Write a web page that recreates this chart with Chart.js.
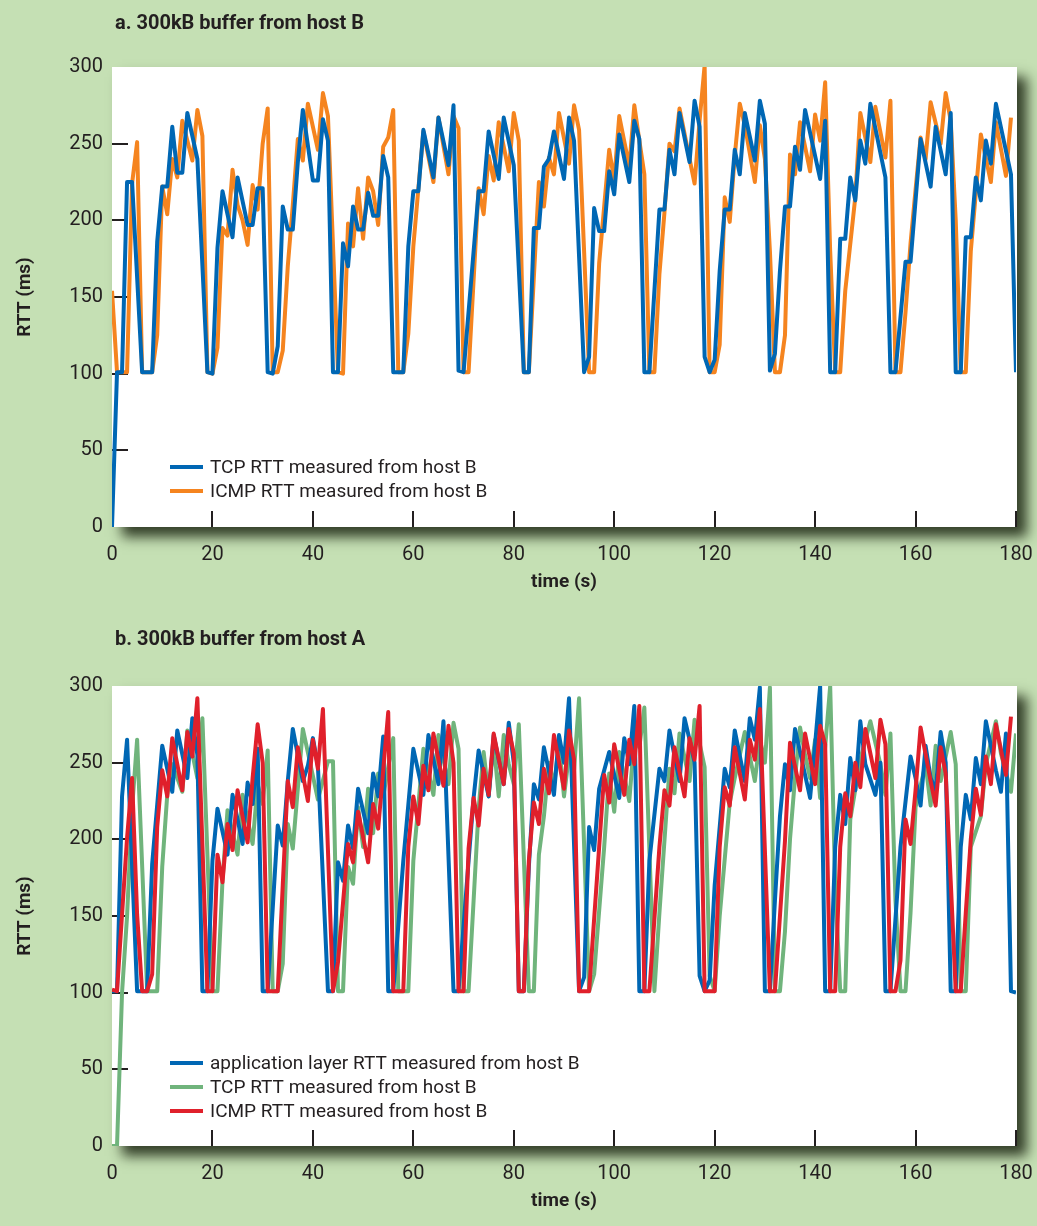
<!DOCTYPE html>
<html>
<head>
<meta charset="utf-8">
<title>RTT with a 300kB buffer</title>
<script src="https://cdn.jsdelivr.net/npm/chart.js@4.4.1/dist/chart.umd.min.js"></script>
<style>
  html, body { margin: 0; padding: 0; background: #c5e0b4; }
  body { position: relative; width: 1037px; height: 1226px; overflow: hidden; }
  canvas { position: absolute; left: 0; }
  #panelA { top: 0; }
  #panelB { top: 613px; }
</style>
</head>
<body>
<canvas id="panelA" width="1037" height="613"></canvas>
<canvas id="panelB" width="1037" height="613"></canvas>
<script>
// axis ticks
const timeTicks = [0, 20, 40, 60, 80, 100, 120, 140, 160, 180];
const rttTicks = [0, 50, 100, 150, 200, 250, 300];

// panel a: [time s, RTT ms] at each vertex of the trace
const tcpFromB_a = [
  [0, 0], [1, 101], [2, 101], [3, 225], [4, 225], [6, 101], [8, 101], [9, 186], [10, 222], [11, 222],
  [12, 261], [13, 231], [14, 231], [15, 270], [17, 240], [19, 101], [20, 100], [21, 182], [22, 219],
  [24, 189], [25, 228], [27, 197], [28, 197], [29, 221], [30, 221], [31, 101], [32, 100], [33, 118],
  [34, 209], [35, 194], [36, 194], [37, 238], [38, 272], [40, 226], [41, 226], [42, 266], [43, 252],
  [44, 101], [45, 101], [46, 185], [47, 170], [48, 209], [49, 194], [50, 194], [51, 218], [52, 203],
  [53, 203], [54, 242], [55, 228], [56, 101], [58, 101], [59, 183], [60, 219], [61, 219], [62, 259],
  [64, 228], [65, 267], [67, 236], [68, 275], [69, 102], [70, 101], [73, 219], [74, 219], [75, 258],
  [77, 227], [78, 267], [80, 236], [82, 101], [83, 101], [84, 195], [85, 195], [86, 235], [87, 240],
  [88, 258], [90, 227], [91, 267], [92, 252], [94, 101], [95, 111], [96, 208], [97, 193], [98, 193],
  [99, 232], [100, 217], [101, 256], [103, 225], [104, 265], [105, 253], [106, 101], [107, 101],
  [109, 207], [110, 207], [111, 246], [112, 230], [113, 270], [115, 238], [116, 278], [117, 261],
  [118, 111], [119, 101], [120, 109], [121, 167], [122, 207], [123, 207], [124, 246], [125, 230],
  [126, 270], [128, 239], [129, 278], [130, 263], [131, 102], [132, 113], [133, 167], [134, 209],
  [135, 209], [136, 248], [137, 233], [138, 272], [141, 227], [142, 265], [143, 101], [144, 101],
  [145, 188], [146, 188], [147, 228], [148, 213], [149, 252], [150, 237], [151, 276], [154, 228],
  [155, 101], [156, 101], [158, 173], [159, 173], [161, 253], [163, 222], [164, 261], [166, 230],
  [167, 270], [168, 101], [169, 101], [170, 189], [171, 189], [172, 228], [173, 213], [174, 252],
  [175, 237], [176, 276], [179, 230], [180, 101]
];
const icmpFromB_a = [
  [0, 154], [1, 101], [3, 101], [4, 224], [5, 251], [6, 101], [8, 101], [9, 125], [10, 222], [11, 204],
  [12, 240], [13, 228], [14, 265], [16, 239], [17, 272], [18, 255], [19, 101], [20, 100], [21, 117],
  [22, 195], [23, 190], [24, 233], [25, 210], [26, 200], [27, 184], [28, 223], [29, 207], [30, 250],
  [31, 273], [32, 101], [33, 101], [34, 115], [35, 170], [36, 210], [37, 253], [38, 239], [39, 276],
  [41, 246], [42, 283], [43, 268], [44, 184], [45, 101], [46, 100], [47, 198], [48, 183], [49, 221],
  [50, 188], [51, 228], [52, 219], [53, 197], [54, 248], [55, 254], [56, 272], [57, 101], [58, 101],
  [59, 126], [60, 183], [62, 258], [64, 225], [65, 267], [67, 230], [68, 268], [69, 260], [70, 101],
  [71, 101], [73, 221], [74, 204], [75, 242], [76, 226], [77, 264], [79, 232], [80, 270], [81, 252],
  [82, 101], [83, 101], [85, 225], [86, 209], [87, 241], [88, 230], [89, 270], [91, 237], [92, 275],
  [93, 259], [95, 101], [96, 101], [97, 172], [98, 209], [99, 246], [100, 226], [101, 268], [103, 235],
  [104, 275], [105, 252], [106, 230], [107, 101], [108, 101], [109, 165], [110, 205], [111, 250],
  [112, 245], [113, 273], [115, 240], [116, 224], [117, 265], [118, 301], [119, 101], [120, 101],
  [121, 119], [122, 215], [123, 199], [124, 242], [125, 276], [126, 262], [128, 225], [129, 262],
  [130, 240], [131, 180], [132, 101], [133, 101], [134, 125], [135, 243], [136, 230], [137, 264],
  [139, 232], [140, 269], [141, 252], [142, 290], [143, 180], [144, 101], [145, 101], [146, 154],
  [148, 215], [149, 270], [151, 238], [152, 274], [154, 241], [155, 278], [156, 101], [157, 101],
  [158, 140], [159, 185], [160, 220], [161, 254], [162, 240], [163, 277], [165, 250], [166, 283],
  [167, 265], [168, 200], [169, 101], [170, 101], [171, 180], [173, 256], [175, 225], [176, 264],
  [178, 229], [179, 267]
];

// panel b
const appFromB_b = [
  [0, 101], [1, 101], [2, 228], [3, 265], [5, 101], [7, 101], [8, 184], [10, 261], [12, 231], [13, 271],
  [15, 240], [16, 279], [17, 255], [18, 101], [19, 101], [20, 186], [21, 220], [23, 190], [24, 229],
  [26, 197], [27, 237], [28, 223], [29, 259], [30, 101], [31, 101], [33, 209], [34, 196], [35, 238],
  [36, 272], [38, 238], [39, 248], [40, 266], [41, 248], [43, 101], [44, 101], [45, 185], [46, 173],
  [47, 209], [48, 194], [49, 233], [51, 204], [52, 243], [53, 228], [54, 267], [55, 101], [56, 101],
  [58, 186], [60, 259], [62, 229], [63, 268], [65, 236], [66, 277], [68, 101], [69, 101], [71, 186],
  [72, 227], [73, 258], [75, 228], [76, 268], [78, 236], [79, 276], [80, 250], [81, 101], [82, 101],
  [83, 182], [84, 236], [85, 226], [86, 260], [88, 229], [89, 268], [90, 250], [91, 292], [93, 101],
  [94, 110], [95, 208], [96, 193], [97, 233], [99, 257], [101, 227], [102, 266], [103, 249], [104, 287],
  [105, 101], [106, 101], [107, 186], [109, 246], [110, 238], [111, 271], [113, 238], [114, 279],
  [115, 265], [116, 250], [117, 111], [118, 101], [119, 108], [120, 170], [122, 246], [123, 234],
  [124, 271], [126, 238], [127, 279], [128, 265], [129, 299], [130, 101], [131, 101], [132, 160],
  [133, 215], [134, 249], [135, 232], [136, 272], [139, 227], [140, 262], [141, 300], [142, 101],
  [143, 101], [144, 195], [145, 229], [146, 210], [147, 253], [148, 232], [149, 277], [150, 249],
  [152, 229], [153, 250], [154, 101], [155, 101], [157, 195], [159, 254], [160, 240], [161, 222],
  [162, 261], [163, 240], [164, 232], [165, 270], [166, 250], [167, 101], [168, 101], [169, 195],
  [170, 229], [171, 213], [172, 253], [173, 236], [174, 277], [176, 245], [177, 231], [178, 269],
  [179, 101], [180, 100]
];
const tcpFromB_b = [
  [0, 0], [1, 0], [2, 100], [3, 150], [4, 220], [5, 265], [7, 101], [9, 101], [10, 182], [11, 229],
  [12, 249], [14, 231], [15, 271], [16, 256], [17, 240], [18, 279], [20, 101], [21, 101], [22, 173],
  [23, 219], [25, 190], [26, 229], [28, 197], [29, 236], [30, 223], [31, 258], [32, 101], [33, 101],
  [34, 119], [35, 210], [36, 194], [38, 272], [41, 226], [43, 251], [44, 251], [45, 101], [46, 101],
  [47, 182], [48, 171], [49, 221], [50, 195], [51, 233], [52, 204], [53, 243], [54, 228], [56, 266],
  [57, 101], [59, 101], [60, 186], [62, 259], [64, 229], [65, 268], [67, 236], [68, 276], [69, 259],
  [70, 101], [71, 101], [72, 160], [73, 220], [74, 257], [75, 228], [76, 263], [77, 228], [78, 268],
  [79, 249], [80, 236], [81, 275], [83, 101], [84, 101], [85, 190], [86, 215], [87, 250], [88, 235],
  [89, 262], [90, 228], [91, 255], [92, 245], [93, 292], [95, 101], [96, 112], [98, 195], [99, 243],
  [100, 218], [101, 257], [103, 225], [104, 266], [105, 260], [106, 286], [108, 101], [109, 152],
  [111, 246], [112, 230], [113, 269], [115, 238], [116, 278], [118, 247], [119, 111], [120, 101],
  [121, 150], [123, 224], [124, 240], [126, 270], [128, 238], [129, 265], [130, 250], [131, 299],
  [132, 101], [133, 101], [134, 140], [135, 200], [136, 240], [137, 273], [138, 255], [139, 240],
  [140, 265], [141, 227], [142, 260], [143, 300], [144, 170], [145, 101], [146, 101], [147, 213],
  [149, 252], [151, 277], [153, 249], [154, 229], [155, 269], [156, 160], [157, 101], [158, 101],
  [159, 152], [160, 221], [162, 249], [163, 222], [164, 261], [165, 238], [167, 270], [168, 249],
  [169, 101], [170, 101], [171, 195], [173, 215], [174, 249], [176, 277], [177, 256], [179, 231],
  [180, 269]
];
const icmpFromB_b = [
  [0, 102], [1, 101], [3, 201], [4, 240], [5, 151], [6, 101], [7, 101], [8, 112], [9, 208], [10, 245],
  [11, 228], [12, 266], [14, 232], [15, 270], [16, 254], [17, 292], [19, 101], [20, 101], [21, 190],
  [22, 172], [23, 210], [24, 193], [25, 232], [27, 198], [28, 240], [29, 275], [30, 250], [31, 101],
  [33, 101], [34, 170], [35, 238], [36, 221], [37, 260], [39, 225], [40, 265], [41, 246], [42, 285],
  [44, 101], [45, 120], [47, 197], [48, 185], [49, 218], [51, 185], [52, 223], [53, 207], [54, 245],
  [55, 283], [56, 101], [58, 101], [59, 195], [60, 228], [61, 210], [62, 248], [63, 232], [64, 269],
  [66, 235], [67, 274], [68, 250], [69, 101], [70, 101], [71, 194], [72, 227], [73, 209], [74, 246],
  [75, 229], [76, 269], [78, 236], [79, 272], [80, 256], [81, 101], [82, 101], [83, 186], [84, 224],
  [85, 210], [86, 246], [87, 230], [88, 268], [90, 233], [91, 271], [92, 252], [93, 101], [95, 101],
  [97, 195], [98, 242], [99, 224], [100, 262], [102, 229], [103, 265], [104, 249], [105, 287],
  [106, 101], [107, 101], [109, 195], [110, 232], [111, 222], [112, 260], [114, 228], [115, 266],
  [116, 252], [117, 287], [118, 101], [120, 101], [121, 195], [122, 234], [123, 222], [124, 260],
  [126, 226], [127, 265], [128, 252], [129, 285], [131, 101], [132, 101], [134, 199], [135, 263],
  [137, 232], [138, 269], [140, 236], [141, 274], [142, 262], [143, 101], [144, 101], [145, 195],
  [146, 230], [147, 215], [148, 250], [149, 234], [150, 272], [152, 240], [153, 278], [154, 262],
  [155, 101], [156, 101], [157, 121], [158, 213], [159, 197], [160, 232], [161, 273], [163, 238],
  [164, 222], [165, 260], [166, 243], [167, 173], [168, 101], [169, 101], [170, 152], [171, 200],
  [172, 233], [173, 216], [174, 254], [175, 236], [176, 275], [178, 242], [179, 280]
];

const INK = '#231f20';
const FONT = "Roboto, 'Open Sans', sans-serif";
const BLUE = '#0067b4';
const ORANGE = '#f5841f';
const GREEN = '#70b47c';
const RED = '#e0202b';

Chart.defaults.font.family = FONT;
Chart.defaults.color = INK;

const toPoints = (pairs) => pairs.map(([x, y]) => ({ x, y }));

// white plot box with the soft drop shadow to the lower right
const plotBox = {
  id: 'plotBox',
  beforeDraw(chart) {
    const { ctx, chartArea: a } = chart;
    ctx.save();
    ctx.shadowColor = 'rgba(35, 45, 25, 0.9)';
    ctx.shadowBlur = 12;
    ctx.shadowOffsetX = 10;
    ctx.shadowOffsetY = 10;
    ctx.fillStyle = '#ffffff';
    ctx.fillRect(a.left, a.top, a.right - a.left + 1, a.bottom - a.top);
    ctx.restore();
  }
};

// tick marks point inward from the left and bottom edges
const innerTicks = {
  id: 'innerTicks',
  beforeDatasetsDraw(chart) {
    const { ctx, chartArea: a, scales: { x, y } } = chart;
    const len = 16;
    ctx.save();
    ctx.strokeStyle = INK;
    ctx.lineWidth = 2;
    ctx.beginPath();
    y.ticks.forEach((t) => {
      if (t.value <= 0 || t.value >= 300) return;
      const py = Math.round(y.getPixelForValue(t.value));
      ctx.moveTo(a.left, py);
      ctx.lineTo(a.left + len, py);
    });
    x.ticks.forEach((t) => {
      if (t.value <= 0) return;
      const px = Math.round(x.getPixelForValue(t.value));
      ctx.moveTo(px, a.bottom);
      ctx.lineTo(px, a.bottom - len);
    });
    ctx.stroke();
    ctx.restore();
  }
};

const insideLegend = {
  id: 'insideLegend',
  afterDatasetsDraw(chart, args, opts) {
    const { ctx } = chart;
    ctx.save();
    ctx.font = `19px ${FONT}`;
    ctx.textBaseline = 'middle';
    chart.data.datasets.forEach((ds, i) => {
      const y = opts.top + i * opts.rowGap;
      ctx.strokeStyle = ds.borderColor;
      ctx.lineWidth = 4;
      ctx.beginPath();
      ctx.moveTo(opts.left, y);
      ctx.lineTo(opts.left + 33, y);
      ctx.stroke();
      ctx.fillStyle = INK;
      ctx.fillText(ds.label, opts.left + 40, y + 1);
    });
    ctx.restore();
  }
};

const panelTitle = {
  id: 'panelTitle',
  afterDraw(chart, args, opts) {
    const { ctx } = chart;
    ctx.save();
    ctx.font = `bold 20px ${FONT}`;
    ctx.fillStyle = INK;
    ctx.textBaseline = 'alphabetic';
    ctx.fillText(opts.text, 115, opts.baseline);
    ctx.restore();
  }
};

const lineSet = (label, pairs, color, order) => ({
  label,
  data: toPoints(pairs),
  borderColor: color,
  backgroundColor: color,
  borderWidth: 4,
  pointRadius: 0,
  tension: 0,
  borderJoinStyle: 'round',
  fill: false,
  order
});

const buildOptions = (cfg) => ({
  responsive: false,
  animation: false,
  events: [],
  layout: { padding: { top: cfg.plotTop, right: 21, bottom: 0, left: 0 } },
  plugins: {
    legend: { display: false },
    tooltip: { enabled: false },
    panelTitle: { text: cfg.title, baseline: cfg.titleBaseline },
    insideLegend: { left: 170, top: cfg.legendTop, rowGap: 24 }
  },
  scales: {
    x: {
      type: 'linear',
      min: 0,
      max: 180,
      afterBuildTicks: (scale) => { scale.ticks = timeTicks.map((value) => ({ value })); },
      afterFit: (scale) => {
        scale.height = cfg.xAxisHeight;
        // the end labels may hang past the plot box; the fixed layout padding covers them
        scale.paddingLeft = 0;
        scale.paddingRight = 0;
      },
      grid: { display: false, drawTicks: false },
      border: { display: false },
      ticks: { font: { size: 20 }, padding: 16, maxRotation: 0, autoSkip: false },
      title: {
        display: true,
        text: 'time (s)',
        font: { size: 19, weight: 'bold' },
        padding: { top: 0, bottom: cfg.xTitlePad }
      }
    },
    y: {
      min: 0,
      max: 300,
      afterBuildTicks: (scale) => { scale.ticks = rttTicks.map((value) => ({ value })); },
      afterFit: (scale) => { scale.width = 112; },
      grid: { display: false, drawTicks: false },
      border: { display: false },
      ticks: { font: { size: 20 }, padding: 9 },
      title: {
        display: true,
        text: 'RTT (ms)',
        font: { size: 19, weight: 'bold' },
        padding: { top: 14, bottom: 0 }
      }
    }
  }
});

new Chart(document.getElementById('panelA'), {
  type: 'line',
  data: {
    datasets: [
      lineSet('TCP RTT measured from host B', tcpFromB_a, BLUE, 0),
      lineSet('ICMP RTT measured from host B', icmpFromB_a, ORANGE, 1)
    ]
  },
  options: buildOptions({
    title: 'a. 300kB buffer from host B',
    titleBaseline: 29,
    plotTop: 67,
    xAxisHeight: 86,
    xTitlePad: 19,
    legendTop: 467
  }),
  plugins: [plotBox, innerTicks, insideLegend, panelTitle]
});

new Chart(document.getElementById('panelB'), {
  type: 'line',
  data: {
    datasets: [
      lineSet('application layer RTT measured from host B', appFromB_b, BLUE, 1),
      lineSet('TCP RTT measured from host B', tcpFromB_b, GREEN, 2),
      lineSet('ICMP RTT measured from host B', icmpFromB_b, RED, 0)
    ]
  },
  options: buildOptions({
    title: 'b. 300kB buffer from host A',
    titleBaseline: 32,
    plotTop: 73,
    xAxisHeight: 80,
    xTitlePad: 13,
    legendTop: 450
  }),
  plugins: [plotBox, innerTicks, insideLegend, panelTitle]
});
</script>
</body>
</html>
